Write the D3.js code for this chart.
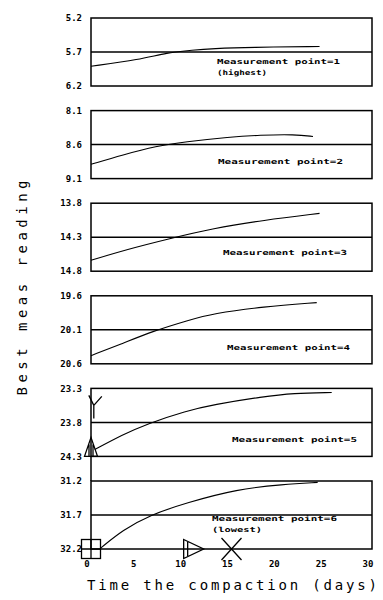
<!DOCTYPE html>
<html>
<head>
<meta charset="utf-8">
<script src="https://cdnjs.cloudflare.com/ajax/libs/d3/7.8.5/d3.min.js"></script>
<style>
  body { margin: 0; background: #fff; }
  svg { display: block; }
  .tick-label { font-family: 'DejaVu Sans Mono', monospace; font-weight: bold; font-size: 9px; }
  .note { font-family: 'DejaVu Sans Mono', monospace; font-weight: bold; font-size: 7px; }
  .title { font-family: 'DejaVu Sans Mono', monospace; font-size: 14px; }
</style>
</head>
<body>
<svg id="chart"></svg>
<script>
const WIDTH = 383;
const HEIGHT = 600;

// panels, top to bottom
const pointNames = ['Measurement point=1', 'Measurement point=2', 'Measurement point=3',
	'Measurement point=4', 'Measurement point=5', 'Measurement point=6'];
const pointNotes = ['(highest)', '', '', '', '', '(lowest)'];
const yTickLabels = [
	['5.2', '5.7', '6.2'],
	['8.1', '8.6', '9.1'],
	['13.8', '14.3', '14.8'],
	['19.6', '20.1', '20.6'],
	['23.3', '23.8', '24.3'],
	['31.2', '31.7', '32.2']
];
const xTicks = [0, 5, 10, 15, 20, 25, 30];

// readings, one series per panel
const days = [
	[0, 5.2, 8.1, 10.9, 13, 17, 24.4],
	[0, 3.4, 7, 10, 14.8, 18, 21.8, 23.7],
	[0, 3.8, 8.4, 13, 18.4, 24.4],
	[0, 3.4, 6.6, 10.4, 13, 18.4, 24.1],
	[0.4, 3.4, 6, 10.2, 13, 18.4, 21.6, 25.7],
	[1, 3.4, 6.3, 10.2, 15.6, 20.5, 24.2]
];
const readings = [
	[5.91, 5.81, 5.71, 5.67, 5.65, 5.63, 5.62],
	[8.89, 8.75, 8.62, 8.56, 8.49, 8.46, 8.45, 8.48],
	[14.64, 14.48, 14.32, 14.17, 14.05, 13.95],
	[20.48, 20.3, 20.12, 19.96, 19.86, 19.76, 19.7],
	[24.2, 23.98, 23.82, 23.63, 23.54, 23.42, 23.37, 23.36],
	[32.19, 31.92, 31.7, 31.52, 31.32, 31.25, 31.22]
];

const left = 91, right = 372;
const firstTop = 18, step = 92.6, panelH = 68;

const svg = d3.select('#chart').attr('width', WIDTH).attr('height', HEIGHT);

const x = d3.scaleLinear().domain([0, 30]).range([left, right]);

const line = d3.line()
	.x((d) => x(d[0]))
	.y((d) => d[1])
	.curve(d3.curveBasis);

const scales = [];

for (let i = 0; i < pointNames.length; i++) {
	const top = firstTop + i * step;
	const lo = +yTickLabels[i][0];
	const hi = +yTickLabels[i][2];
	// reading axis grows downwards
	const y = d3.scaleLinear().domain([lo, hi]).range([top, top + panelH]);
	scales.push(y);
	const g = svg.append('g');

	g.append('rect')
		.attr('x', left)
		.attr('y', top)
		.attr('width', right - left)
		.attr('height', panelH)
		.attr('fill', 'none')
		.attr('stroke', '#000')
		.attr('stroke-width', 1.5);

	g.append('line')
		.attr('x1', left)
		.attr('x2', right)
		.attr('y1', y((lo + hi) / 2))
		.attr('y2', y((lo + hi) / 2))
		.attr('stroke', '#000')
		.attr('stroke-width', 1.5);

	g.selectAll('text.tick-label')
		.data(yTickLabels[i])
		.enter()
		.append('text')
		.attr('class', 'tick-label')
		.attr('x', 82)
		.attr('y', (d) => y(+d))
		.attr('dy', '0.35em')
		.attr('text-anchor', 'end')
		.text((d) => d);

	const pts = days[i].map((d, k) => [d, y(readings[i][k])]);
	g.append('path')
		.attr('d', line(pts))
		.attr('fill', 'none')
		.attr('stroke', '#000')
		.attr('stroke-width', 1.1);
}

// notes inside panels
const noteX = [217, 218, 223, 227, 232, 212];
const noteLen = [123, 125, 124, 123, 125, 125];
const noteY = [62, 162, 253, 348, 440, 519];
for (let i = 0; i < pointNames.length; i++) {
	svg.append('text')
		.attr('class', 'note')
		.attr('x', noteX[i])
		.attr('y', noteY[i])
		.attr('dy', '0.35em')
		.attr('textLength', noteLen[i])
		.attr('lengthAdjust', 'spacingAndGlyphs')
		.text(pointNames[i]);
	if (pointNotes[i]) {
		svg.append('text')
			.attr('class', 'note')
			.attr('x', noteX[i])
			.attr('y', noteY[i] + 11)
			.attr('dy', '0.35em')
			.attr('textLength', 50)
			.attr('lengthAdjust', 'spacingAndGlyphs')
			.text(pointNotes[i]);
	}
}

// axis link between the two lowest panels
svg.append('line')
	.attr('x1', left).attr('x2', left)
	.attr('y1', scales[4].range()[1])
	.attr('y2', scales[5].range()[0])
	.attr('stroke', '#000')
	.attr('stroke-width', 1.5);

// x tick labels
const yBottom = scales[5].range()[1];
svg.selectAll('text.xtick')
	.data(xTicks)
	.enter()
	.append('text')
	.attr('class', 'tick-label xtick')
	.attr('x', (d) => x(d) - 4)
	.attr('y', yBottom + 15)
	.attr('dy', '0.35em')
	.attr('text-anchor', 'middle')
	.text((d) => d);

// markers
const mk = svg.append('g').attr('fill', 'none').attr('stroke', '#000').attr('stroke-width', 1.3);
const s6 = scales[5], s5 = scales[4];
// square with cross at day 0
const sx = x(0), sy = s6(32.2);
mk.append('rect').attr('x', sx - 9.5).attr('y', sy - 9.5).attr('width', 19).attr('height', 19);
mk.append('path').attr('d', `M${sx - 9.5},${sy}H${sx + 9.5}M${sx},${sy - 9.5}V${sy + 9.5}`);
// triangle at day 10
const tx = x(10) - 1, ty = s6(32.2);
mk.append('path').attr('d', `M${tx},${ty - 9.5}L${tx + 20},${ty}L${tx},${ty + 9.5}Z M${tx + 4},${ty - 7}V${ty + 7}`);
// cross at day 15
const cx = x(15), cy = s6(32.2);
mk.append('path').attr('d', `M${cx - 10},${cy - 11}L${cx + 10},${cy + 11}M${cx + 10},${cy - 11}L${cx - 10},${cy + 11}`);
// triangle and Y in panel 5
const px = x(0), py = s5(24.3);
mk.append('path').attr('d', `M${px - 6.5},${py}L${px},${py - 19}L${px + 6.5},${py}Z M${px - 2},${py}V${py - 12}M${px + 2},${py}V${py - 12}`);
const yx = x(0.3), yy = s5(23.55);
mk.append('path').attr('d', `M${yx - 5},${yy - 10}L${yx},${yy}L${yx + 8},${yy - 9}M${yx},${yy}V${yy + 13}`);

// axis titles
svg.append('text')
	.attr('class', 'title')
	.attr('x', 232)
	.attr('y', 590)
	.attr('text-anchor', 'middle')
	.attr('textLength', 290)
	.attr('lengthAdjust', 'spacing')
	.text('Time the compaction (days)');

svg.append('text')
	.attr('class', 'title')
	.attr('transform', 'translate(27,288) rotate(-90)')
	.attr('text-anchor', 'middle')
	.attr('textLength', 215)
	.attr('lengthAdjust', 'spacing')
	.text('Best meas reading');
</script>
</body>
</html>
